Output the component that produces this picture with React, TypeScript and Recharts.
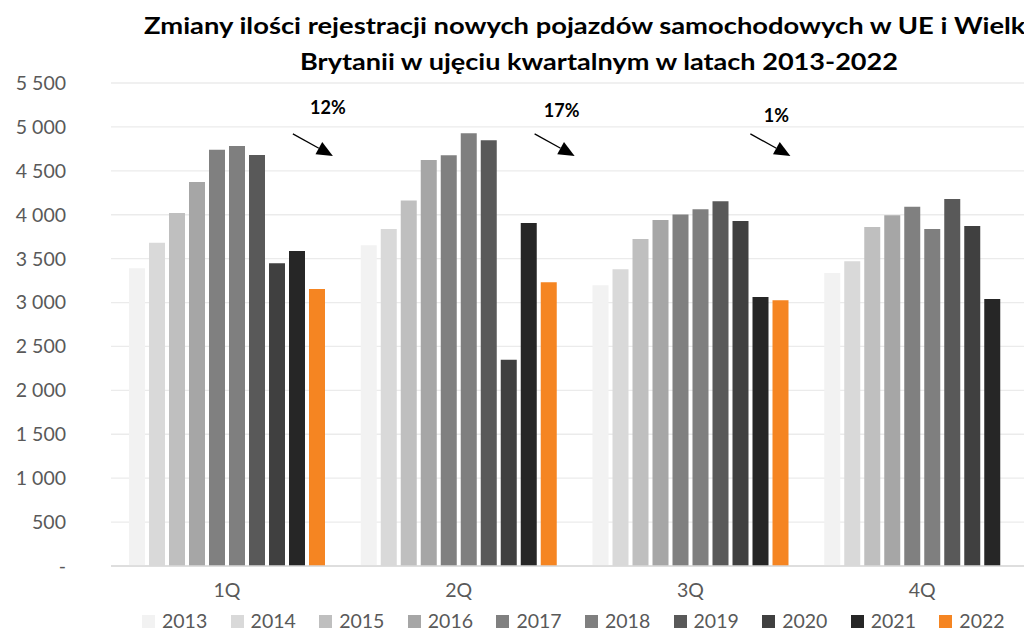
import React from "react"
import {
    BarChart,
    Bar,
    XAxis,
    YAxis,
    CartesianGrid,
    ReferenceDot
} from "recharts"

// quarters on the x axis, one series per year
const quarters = ["1Q", "2Q", "3Q", "4Q"]
const years = ["2013", "2014", "2015", "2016", "2017", "2018", "2019", "2020", "2021", "2022"]

const v2013 = [3390, 3653, 3197, 3337]
const v2014 = [3682, 3838, 3379, 3470]
const v2015 = [4020, 4161, 3724, 3861]
const v2016 = [4374, 4624, 3941, 3994]
const v2017 = [4741, 4677, 4002, 4092]
const v2018 = [4784, 4928, 4062, 3838]
const v2019 = [4681, 4848, 4154, 4180]
const v2020 = [3447, 2350, 3929, 3872]
const v2021 = [3588, 3907, 3064, 3041]
const v2022 = [3155, 3231, 3026, null]

const yTicks = [0, 500, 1000, 1500, 2000, 2500, 3000, 3500, 4000, 4500, 5000, 5500]

// percent drop annotations (quarter + label)
const noteQuarters = ["1Q", "2Q", "3Q"]
const noteLabels = ["12%", "17%", "1%"]
const noteAnchor = 5000

const title1 = "Zmiany ilości rejestracji nowych pojazdów samochodowych w UE i Wielkiej"
const title2 = "Brytanii w ujęciu kwartalnym w latach 2013-2022"

const seriesValues = [v2013, v2014, v2015, v2016, v2017, v2018, v2019, v2020, v2021, v2022]
const colors = ["#f2f2f2", "#d9d9d9", "#bfbfbf", "#a6a6a6", "#808080", "#7f7f7f", "#595959", "#404040", "#262626", "#f58522"]

// pixel offsets of each annotation relative to its quarter centre
const noteLayout = [
    { textDx: 101, textDy: -13, arrowDx: 66 },
    { textDx: 103, textDy: -10, arrowDx: 76 },
    { textDx: 86, textDy: -5, arrowDx: 60 }
]

const chartData = quarters.map((q, i) => {
    const row: any = { quarter: q }
    years.forEach((y, j) => {
        row[y] = seriesValues[j][i]
    })
    return row
})

const fmt = (v: number) => (v === 0 ? "-" : v.toLocaleString("en-US").replace(/,/g, " "))

const FONT = "Lato, 'Open Sans', sans-serif"
const TEXT = "#595959"

function Arrow({ cx, cy, idx }: any) {
    const l = noteLayout[idx]
    const sx = cx + l.arrowDx
    const sy = cy + 7
    const tx = sx + 40
    const ty = sy + 22
    const len = Math.hypot(40, 22)
    const ux = 40 / len
    const uy = 22 / len
    const bx = tx - 16 * ux
    const by = ty - 16 * uy
    const px = -uy * 7
    const py = ux * 7
    return (
        <g>
            <text
                x={cx + l.textDx}
                y={cy + l.textDy}
                textAnchor="middle"
                fontFamily={FONT}
                fontWeight={700}
                fontSize={18}
                fill="#000"
            >
                {noteLabels[idx]}
            </text>
            <line x1={sx} y1={sy} x2={bx} y2={by} stroke="#000" strokeWidth={1.3} />
            <polygon points={`${tx},${ty} ${bx + px},${by + py} ${bx - px},${by - py}`} fill="#000" />
        </g>
    )
}

export default function App() {
    return (
        <div
            style={{
                position: "absolute",
                left: 0,
                top: 0,
                width: 1024,
                height: 631,
                overflow: "hidden",
                background: "#fff",
                fontFamily: FONT
            }}
        >
            <BarChart
                width={1060}
                height={631}
                data={chartData}
                margin={{ top: 83, right: 22, left: 0, bottom: 35 }}
                barSize={16}
                barGap={4}
            >
                <CartesianGrid vertical={false} stroke="#ebebeb" strokeWidth={1.3} />
                <XAxis
                    dataKey="quarter"
                    height={30}
                    tickSize={0}
                    tickMargin={17}
                    axisLine={{ stroke: "#d9d9d9", strokeWidth: 1.5 }}
                    tick={{ fill: TEXT, fontSize: 19.5, fontFamily: FONT }}
                />
                <YAxis
                    width={111}
                    domain={[0, 5500]}
                    ticks={yTicks}
                    interval={0}
                    tickFormatter={fmt}
                    tickSize={0}
                    tickMargin={45}
                    axisLine={false}
                    tickLine={false}
                    tick={{ fill: TEXT, fontSize: 19.5, fontFamily: FONT }}
                />
                {years.map((y, i) => (
                    <Bar key={y} dataKey={y} fill={colors[i]} isAnimationActive={false} />
                ))}
                {noteQuarters.map((q, i) => (
                    <ReferenceDot
                        key={q}
                        x={q}
                        y={noteAnchor}
                        ifOverflow="visible"
                        shape={(p: any) => <Arrow cx={p.cx} cy={p.cy} idx={i} />}
                    />
                ))}
            </BarChart>

            <svg
                width={1024}
                height={80}
                style={{ position: "absolute", left: 0, top: 0, overflow: "visible" }}
            >
                <text
                    x={599}
                    y={34}
                    textAnchor="middle"
                    fontFamily={FONT}
                    fontWeight={700}
                    fontSize={22}
                    textLength={910}
                    lengthAdjust="spacingAndGlyphs"
                    fill="#000"
                >
                    {title1}
                </text>
                <text
                    x={599}
                    y={70}
                    textAnchor="middle"
                    fontFamily={FONT}
                    fontWeight={700}
                    fontSize={22}
                    textLength={598}
                    lengthAdjust="spacingAndGlyphs"
                    fill="#000"
                >
                    {title2}
                </text>
            </svg>

            <div
                style={{
                    position: "absolute",
                    left: 142,
                    top: 612,
                    display: "flex",
                    alignItems: "center",
                    height: 18
                }}
            >
                {years.map((y, i) => (
                    <div key={y} style={{ width: 88.6, height: 18, display: "flex", alignItems: "center" }}>
                        <span
                            style={{
                                width: 13,
                                height: 13,
                                background: colors[i],
                                display: "inline-block",
                                marginRight: 7
                            }}
                        />
                        <span style={{ color: TEXT, fontSize: 19.5, lineHeight: "18px" }}>{y}</span>
                    </div>
                ))}
            </div>
        </div>
    )
}
